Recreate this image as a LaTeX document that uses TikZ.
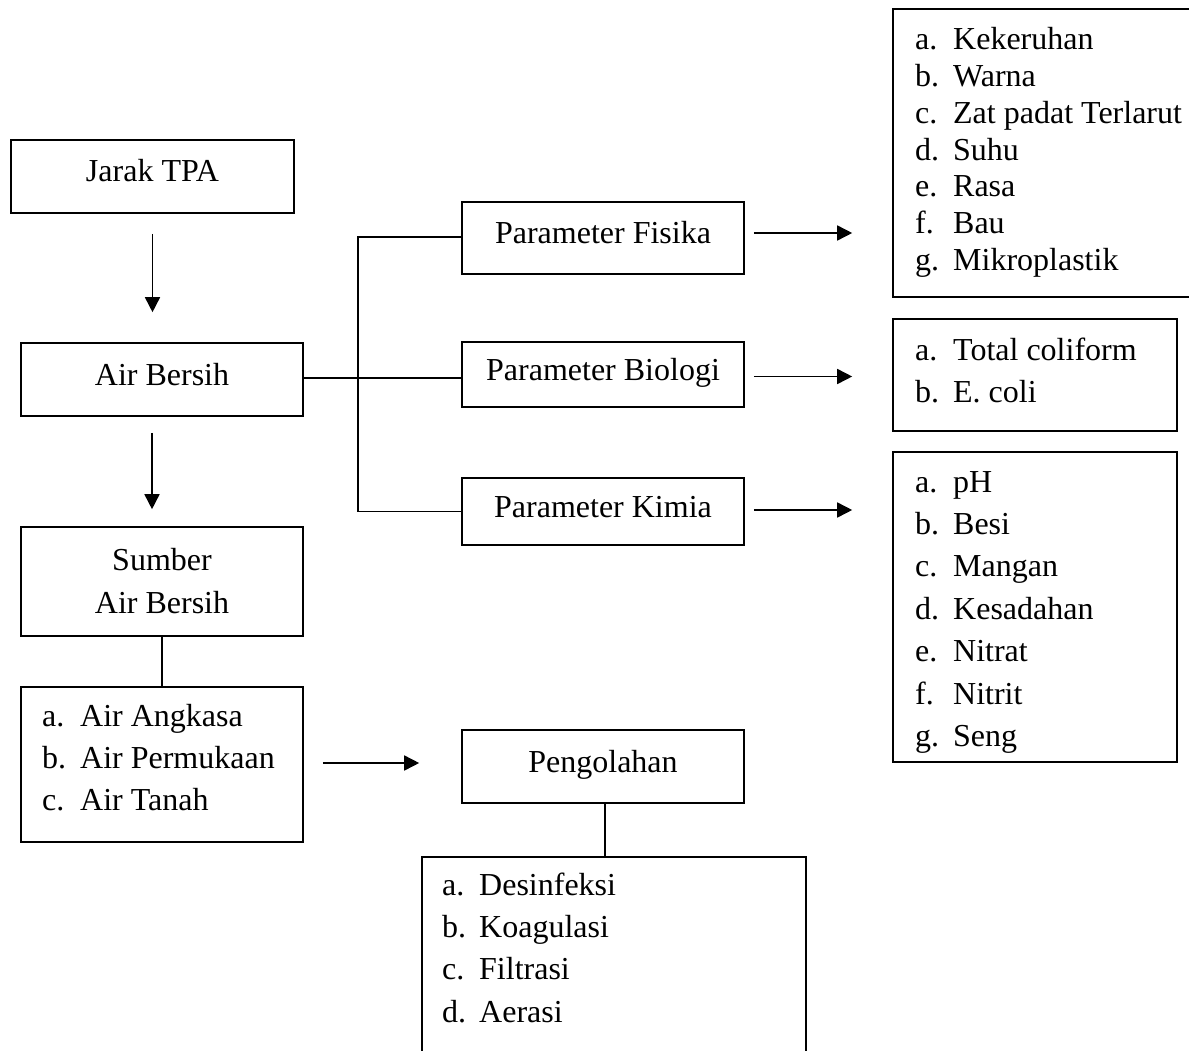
\documentclass[tikz,border=0pt]{standalone}
\usepackage{fontspec}
\setmainfont{Liberation Serif}
\usepackage{array}
\usetikzlibrary{arrows.meta,calc}
\begin{document}
\begin{tikzpicture}[x=1pt,y=-1pt,
  box/.style={draw, line width=1.6pt, rectangle, inner sep=0pt},
  lbl/.style={box, font=\fontsize{32}{43}\selectfont, text height=24pt, text depth=13pt},
  lst/.style={anchor=base west, inner sep=0pt, font=\fontsize{32}{42.4}\selectfont},
  lsttight/.style={lst, font=\fontsize{32}{36.7}\selectfont},
  conn/.style={line width=1.6pt},
  arr/.style={conn, -{Triangle[length=15pt,width=15pt]}}
]
\useasboundingbox (0,0) rectangle (1189,1051);
% left column
\node[lbl, minimum width=283pt, minimum height=73pt] (jarak) at (152.5,176.5) {Jarak TPA};
\node[lbl, minimum width=282pt, minimum height=73pt] (air) at (162,379.5) {Air Bersih};
\node[box, align=center, font=\fontsize{32}{43}\selectfont, minimum width=282pt, minimum height=109pt] (sumber) at (162,581.5) {Sumber\\Air Bersih};
\node[box, minimum width=282pt, minimum height=155pt] (srcl) at (162,764.5) {};
\node[lst] (srclt) at (42,726) {\begin{tabular}[t]{@{}p{38pt}@{}l@{}}a. & Air Angkasa\\ b. & Air Permukaan\\ c. & Air Tanah\end{tabular}};
% middle column
\node[lbl, minimum width=282pt, minimum height=72pt] (fis) at (603,238) {Parameter Fisika};
\node[lbl, minimum width=282pt, minimum height=65pt] (bio) at (603,374.5) {Parameter Biologi};
\node[lbl, minimum width=282pt, minimum height=67pt] (kim) at (603,511.5) {Parameter Kimia};
\node[lbl, minimum width=282pt, minimum height=73pt] (peng) at (603,766.5) {Pengolahan};
\node[box, minimum width=384pt, minimum height=213pt] (procl) at (614,963.5) {};
\node[lst] (proclt) at (442,895) {\begin{tabular}[t]{@{}p{37pt}@{}l@{}}a. & Desinfeksi\\ b. & Koagulasi\\ c. & Filtrasi\\ d. & Aerasi\end{tabular}};
% right column
\node[box, minimum width=307pt, minimum height=288pt] (fisl) at (1046.5,153) {};
\node[lsttight] (fislt) at (915,50) {\begin{tabular}[t]{@{}p{38pt}@{}l@{}}a. & Kekeruhan\\ b. & Warna\\ c. & Zat padat Terlarut\\ d. & Suhu\\ e. & Rasa\\ f. & Bau\\ g. & Mikroplastik\end{tabular}};
\node[box, minimum width=284pt, minimum height=112pt] (biol) at (1035,375) {};
\node[lst] (biolt) at (915,360) {\begin{tabular}[t]{@{}p{38pt}@{}l@{}}a. & Total coliform\\ b. & E. coli\end{tabular}};
\node[box, minimum width=284pt, minimum height=310pt] (kiml) at (1035,607) {};
\node[lst] (kimlt) at (915,492) {\begin{tabular}[t]{@{}p{38pt}@{}l@{}}a. & pH\\ b. & Besi\\ c. & Mangan\\ d. & Kesadahan\\ e. & Nitrat\\ f. & Nitrit\\ g. & Seng\end{tabular}};
% connectors
\draw[arr, shorten <=20pt, shorten >=30pt] (jarak.south) -- (jarak.south |- air.north);
\draw[arr, shorten <=16pt, shorten >=17pt] ([xshift=-10pt]air.south) -- ([xshift=-10pt]air.south |- sumber.north);
\draw[conn] (sumber.south) -- (srcl.north);
\draw[conn] ([yshift=1.5pt]air.east) -- ([yshift=1.5pt]air.east -| bio.west);
\coordinate (br) at ($(fis.west)+(-103,0)$);
\draw[conn] ([yshift=1pt]fis.west) -- ([yshift=1pt]br) -- (br |- kim.west) -- (kim.west);
\draw[arr, shorten <=9pt, shorten >=40pt] ([yshift=5pt]fis.east) -- ([yshift=5pt]fis.east -| fisl.west);
\draw[arr, shorten <=9pt, shorten >=40pt] ([yshift=-2pt]bio.east) -- ([yshift=-2pt]bio.east -| biol.west);
\draw[arr, shorten <=9pt, shorten >=40pt] ([yshift=1.5pt]kim.east) -- ([yshift=1.5pt]kim.east -| kiml.west);
\draw[arr, shorten <=19pt, shorten >=42pt] ([yshift=1.5pt]srcl.east) -- ([yshift=1.5pt]srcl.east -| peng.west);
\draw[conn] ([xshift=2pt]peng.south) -- ([xshift=2pt]peng.south |- procl.north);
\end{tikzpicture}
\end{document}
